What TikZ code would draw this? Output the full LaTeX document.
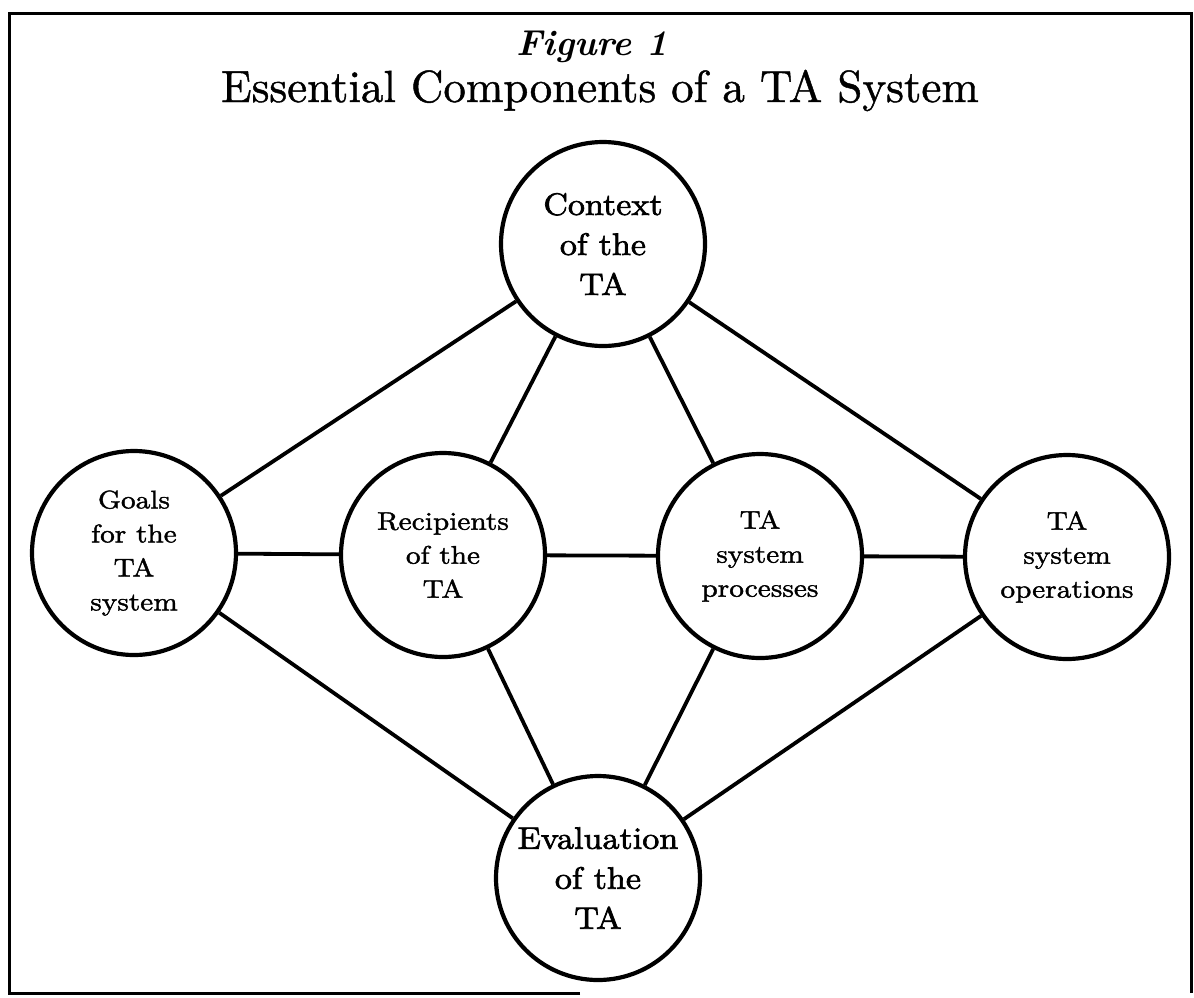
\documentclass[tikz,border=0pt]{standalone}
\usepackage{fontspec}
% label faces: widened and thickened Latin Modern
\newfontfamily\compfont{lmroman10-regular.otf}[FakeStretch=1.15,FakeBold=1.5]
\newfontfamily\compheavy{lmroman10-regular.otf}[FakeStretch=1.1,FakeBold=2.2]
\newfontfamily\headfont{lmroman10-regular.otf}[FakeBold=1]
\newfontfamily\figlinefont{lmroman10-bolditalic.otf}
\begin{document}
\begin{tikzpicture}[x=1pt,y=-1pt,
  comp/.style={draw, circle, line width=4.2pt, inner sep=0pt, align=center, minimum size=204pt},
  small/.style={comp, font=\compfont\fontsize{25.5}{34}\selectfont},
  big/.style={comp, font=\compheavy\fontsize{31}{40}\selectfont},
  link/.style={line width=3.8pt}]
\useasboundingbox (0,0) rectangle (1194,997);
\fill[white] (0,0) rectangle (1194,997);
% outer frame (its lower edge stops short on the right)
\draw[line width=3pt] (580,993) -- (9,993) -- (9,13) -- (1191,13) -- (1191,993);
% heading
\node[anchor=base, font=\figlinefont\fontsize{36}{40}\selectfont] (fig) at (592,55) {Figure 1};
\node[anchor=base, font=\headfont\fontsize{45}{50}\selectfont] (title) at (600,102) {Essential Components of a TA System};
% components
\node[big] (ctx) at (603,244) {Context\\of the\\TA};
\node[small] (goals) at (134,553) {Goals\\for the\\TA\\system};
\node[small] (rec) at (443,555) {Recipients\\of the\\TA};
\node[small] (proc) at (760,556) {TA\\system\\processes};
\node[small] (ops) at (1067,557) {TA\\system\\operations};
\node[big] (eval) at (598,878) {Evaluation\\of the\\TA};
% links
\draw[link] (ctx) -- (goals);
\draw[link] (ctx) -- (rec);
\draw[link] (ctx) -- (proc);
\draw[link] (ctx) -- (ops);
\draw[link] (goals) -- (rec);
\draw[link] (rec) -- (proc);
\draw[link] (proc) -- (ops);
\draw[link] (goals) -- (eval);
\draw[link] (rec) -- (eval);
\draw[link] (proc) -- (eval);
\draw[link] (ops) -- (eval);
\end{tikzpicture}
\end{document}
